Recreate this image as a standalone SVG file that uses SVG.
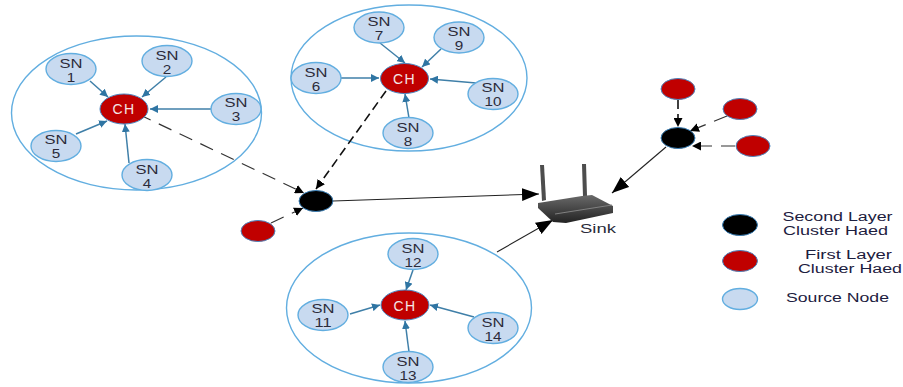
<svg xmlns="http://www.w3.org/2000/svg" width="903" height="387" viewBox="0 0 903 387">
<style>
text{font-family:"Liberation Sans",Arial,sans-serif;text-anchor:middle;fill:#2b2b3a}
.sn text{font-size:12.500px}
.ch{font-size:14px;letter-spacing:1.400px;fill:#f4e6e6}
.lg{font-size:12.500px;fill:#1d2040}
.c{fill:none;stroke:#62aee0;stroke-width:1.4}
.s{fill:#c8daf0;stroke:#62aee0;stroke-width:1.4}
.r{fill:#c00000;stroke:#4a86c0;stroke-width:1}
.b{fill:#000;stroke:#3a80b8;stroke-width:1}
.a{fill:none;stroke:#3f7fa8;stroke-width:1.500;marker-end:url(#ab)}
.k{fill:none;stroke:#222;stroke-width:1.100;marker-end:url(#ak)}
.d{fill:none;stroke:#333;stroke-width:1.200;stroke-dasharray:14 9;marker-end:url(#am)}
.e{stroke:#111;stroke-width:1.600;stroke-dasharray:9 5}
</style>
<defs>
<marker id="ab" markerUnits="userSpaceOnUse" markerWidth="9" markerHeight="8" refX="8" refY="4" orient="auto"><path d="M0 0L8 4L0 8Z" fill="#2f75a3"/></marker>
<marker id="ak" markerUnits="userSpaceOnUse" markerWidth="18" markerHeight="14" refX="17" refY="7" orient="auto"><path d="M0 0.500L17 7L0 13.500Z" fill="#000"/></marker>
<marker id="am" markerUnits="userSpaceOnUse" markerWidth="10" markerHeight="9" refX="9" refY="4.500" orient="auto"><path d="M0 0L9 4.500L0 9Z" fill="#000"/></marker>
<linearGradient id="rg" x1="0" y1="0" x2="0" y2="1"><stop offset="0" stop-color="#6a6a6a"/><stop offset="1" stop-color="#222"/></linearGradient>
</defs>
<ellipse id="cluster1" class="c" cx="136.500" cy="113" rx="125" ry="77"/>
<ellipse id="cluster2" class="c" cx="409" cy="78" rx="118" ry="73"/>
<ellipse id="cluster3" class="c" cx="409" cy="308" rx="122.500" ry="75"/>
<g id="connectors">
<path class="a" d="M90 81L108 97"/><path class="a" d="M166 77L142 97"/><path class="a" d="M211 109L150 109"/><path class="a" d="M76 134L107 121"/><path class="a" d="M129 163L125 124"/>
<path class="a" d="M341 78L379 78"/><path class="a" d="M380 43L405 63"/><path class="a" d="M441 49L422 67"/><path class="a" d="M476 83L430 79"/><path class="a" d="M409 118L405 94"/>
<path class="a" d="M350 314L380 305"/><path class="a" d="M413 270L406 290"/><path class="a" d="M474 317L430 305"/><path class="a" d="M409 352L405 321"/>
<path class="d" d="M138 114L304 193"/><path class="d e" d="M386 91L316 189"/><path class="d" d="M271 223L303 208"/>
<path class="d e" d="M678 100L678 127"/><path class="d" d="M727 116L690 131"/><path class="d" d="M735 146L692 146"/>
<path class="k" d="M333 201L539 194"/><path class="k" d="M666 147L612 193"/><path class="k" d="M497 252L553 220"/>
</g>
<g id="ch1"><ellipse class="r" cx="124" cy="109" rx="24" ry="15"/><text class="ch" x="124" y="114">CH</text></g>
<g id="ch2"><ellipse class="r" cx="404.500" cy="78.500" rx="24" ry="15"/><text class="ch" x="404.500" y="84">CH</text></g>
<g id="ch3"><ellipse class="r" cx="405" cy="305" rx="24" ry="15"/><text class="ch" x="405" y="311">CH</text></g>
<g class="sn">
<g id="sn1"><ellipse class="s" cx="71" cy="69" rx="25" ry="15.500"/><text x="71" y="67.500" textLength="23" lengthAdjust="spacingAndGlyphs">SN</text><text x="71" y="82" textLength="8.500" lengthAdjust="spacingAndGlyphs">1</text></g>
<g id="sn2"><ellipse class="s" cx="167" cy="61" rx="25" ry="15.500"/><text x="167" y="59.500" textLength="23" lengthAdjust="spacingAndGlyphs">SN</text><text x="167" y="74" textLength="8.500" lengthAdjust="spacingAndGlyphs">2</text></g>
<g id="sn3"><ellipse class="s" cx="236" cy="109" rx="25" ry="15.500"/><text x="236" y="106.500" textLength="23" lengthAdjust="spacingAndGlyphs">SN</text><text x="236" y="121" textLength="8.500" lengthAdjust="spacingAndGlyphs">3</text></g>
<g id="sn4"><ellipse class="s" cx="147" cy="175" rx="25" ry="15.500"/><text x="147" y="173.500" textLength="23" lengthAdjust="spacingAndGlyphs">SN</text><text x="147" y="188" textLength="8.500" lengthAdjust="spacingAndGlyphs">4</text></g>
<g id="sn5"><ellipse class="s" cx="56" cy="146" rx="25" ry="15.500"/><text x="56" y="143.500" textLength="23" lengthAdjust="spacingAndGlyphs">SN</text><text x="56" y="158" textLength="8.500" lengthAdjust="spacingAndGlyphs">5</text></g>
<g id="sn6"><ellipse class="s" cx="316" cy="78" rx="25" ry="15.500"/><text x="316" y="76.500" textLength="23" lengthAdjust="spacingAndGlyphs">SN</text><text x="316" y="91" textLength="8.500" lengthAdjust="spacingAndGlyphs">6</text></g>
<g id="sn7"><ellipse class="s" cx="379" cy="27.500" rx="25" ry="15.500"/><text x="379" y="25.500" textLength="23" lengthAdjust="spacingAndGlyphs">SN</text><text x="379" y="40" textLength="8.500" lengthAdjust="spacingAndGlyphs">7</text></g>
<g id="sn8"><ellipse class="s" cx="408" cy="133" rx="25" ry="15.500"/><text x="408" y="131.500" textLength="23" lengthAdjust="spacingAndGlyphs">SN</text><text x="408" y="146" textLength="8.500" lengthAdjust="spacingAndGlyphs">8</text></g>
<g id="sn9"><ellipse class="s" cx="459" cy="37.500" rx="25" ry="15.500"/><text x="459" y="35.500" textLength="23" lengthAdjust="spacingAndGlyphs">SN</text><text x="459" y="50" textLength="8.500" lengthAdjust="spacingAndGlyphs">9</text></g>
<g id="sn10"><ellipse class="s" cx="493" cy="94" rx="25" ry="15.500"/><text x="493" y="91.500" textLength="23" lengthAdjust="spacingAndGlyphs">SN</text><text x="493" y="106" textLength="17" lengthAdjust="spacingAndGlyphs">10</text></g>
<g id="sn11"><ellipse class="s" cx="323" cy="315" rx="25" ry="15.500"/><text x="323" y="312.500" textLength="23" lengthAdjust="spacingAndGlyphs">SN</text><text x="323" y="327" textLength="17" lengthAdjust="spacingAndGlyphs">11</text></g>
<g id="sn12"><ellipse class="s" cx="413" cy="254" rx="25" ry="15.500"/><text x="413" y="252.500" textLength="23" lengthAdjust="spacingAndGlyphs">SN</text><text x="413" y="267" textLength="17" lengthAdjust="spacingAndGlyphs">12</text></g>
<g id="sn13"><ellipse class="s" cx="408" cy="367" rx="25" ry="15.500"/><text x="408" y="365.500" textLength="23" lengthAdjust="spacingAndGlyphs">SN</text><text x="408" y="380" textLength="17" lengthAdjust="spacingAndGlyphs">13</text></g>
<g id="sn14"><ellipse class="s" cx="493" cy="328" rx="25" ry="15.500"/><text x="493" y="326.500" textLength="23" lengthAdjust="spacingAndGlyphs">SN</text><text x="493" y="341" textLength="17" lengthAdjust="spacingAndGlyphs">14</text></g>
</g>
<g id="second1"><ellipse class="b" cx="316" cy="201" rx="17" ry="10.500"/></g>
<g id="first1"><ellipse class="r" cx="258" cy="231" rx="17" ry="10.500"/></g>
<g id="second2"><ellipse class="b" cx="678" cy="138" rx="17" ry="10.500"/></g>
<g id="first2"><ellipse class="r" cx="678" cy="89" rx="17" ry="10.500"/></g>
<g id="first3"><ellipse class="r" cx="740" cy="109" rx="17" ry="10.500"/></g>
<g id="first4"><ellipse class="r" cx="753" cy="146" rx="17" ry="10.500"/></g>
<g id="sink">
<path d="M540 165L544 165L546 200L542 201Z" fill="#4d4d4d"/><path d="M582 164L586 164L587 196L583 197Z" fill="#4d4d4d"/>
<path d="M538 203L582 196L592 195L613 206L613 213L566 223L553 222L538 208Z" fill="url(#rg)"/>
<path d="M555 214L612 205" stroke="#808080" stroke-width="1" fill="none"/>
<text x="598" y="233" font-size="13" textLength="36" lengthAdjust="spacingAndGlyphs">Sink</text>
</g>
<g id="legend-second"><ellipse class="b" cx="740" cy="225" rx="17.500" ry="10.500"/><text class="lg" x="837.500" y="220.500" textLength="110" lengthAdjust="spacingAndGlyphs">Second Layer</text><text class="lg" x="835.500" y="235" textLength="105" lengthAdjust="spacingAndGlyphs">Cluster Haed</text></g>
<g id="legend-first"><ellipse class="r" cx="740" cy="261" rx="17.500" ry="10.500"/><text class="lg" x="848.500" y="258.500" textLength="87" lengthAdjust="spacingAndGlyphs">First Layer</text><text class="lg" x="850" y="273" textLength="104" lengthAdjust="spacingAndGlyphs">Cluster Haed</text></g>
<g id="legend-source"><ellipse class="s" cx="740" cy="299" rx="17.500" ry="10.500"/><text class="lg" x="837.500" y="302" textLength="103" lengthAdjust="spacingAndGlyphs">Source Node</text></g>
</svg>
